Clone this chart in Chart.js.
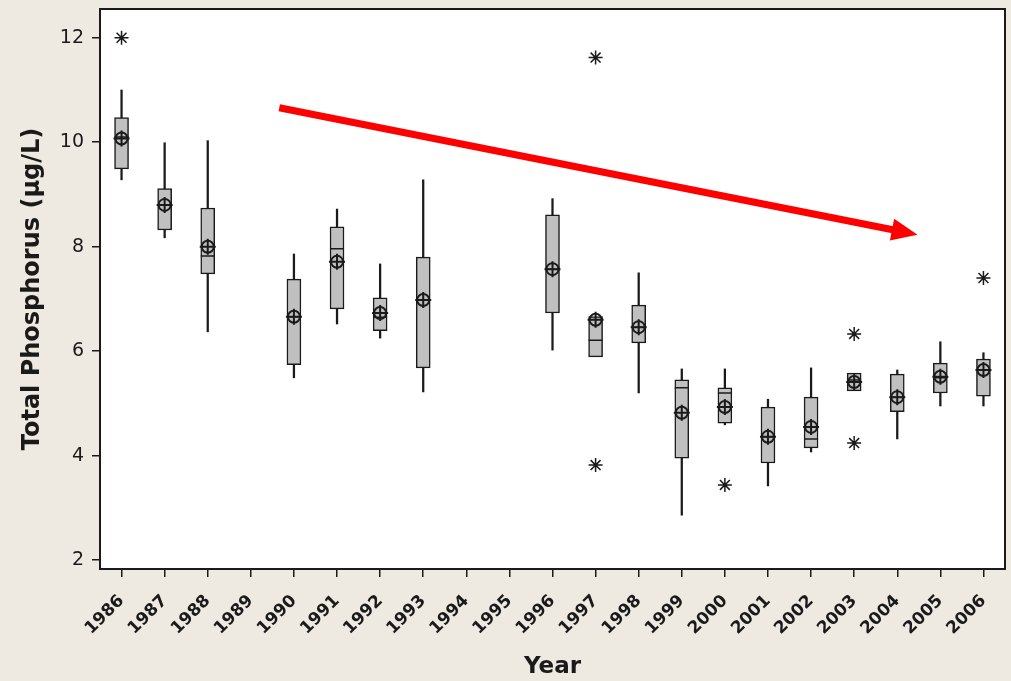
<!DOCTYPE html>
<html>
<head>
<meta charset="utf-8">
<script src="https://cdn.jsdelivr.net/npm/chart.js@4"></script>
<style>
  html, body { margin: 0; padding: 0; background: #eeeae2; overflow: hidden; }
  #wrap { width: 1011px; height: 681px; position: relative; }
</style>
</head>
<body>
<div id="wrap"><canvas id="tpChart"></canvas></div>
<script>
// ---- DATA ----
const years = ['1986','1987','1988','1989','1990','1991','1992','1993','1994','1995','1996',
               '1997','1998','1999','2000','2001','2002','2003','2004','2005','2006'];
const boxLow   = [9.49, 8.32, 7.48, null, 5.74, 6.81, 6.39, 5.68, null, null, 6.73, 5.89, 6.16, 3.95, 4.62, 3.86, 4.15, 5.24, 4.84, 5.20, 5.14];
const boxHigh  = [10.47, 9.11, 8.74, null, 7.38, 8.38, 7.02, 7.80, null, null, 8.61, 6.66, 6.88, 5.45, 5.30, 4.93, 5.12, 5.58, 5.56, 5.77, 5.85];
const whiskLow = [9.28, 8.17, 6.37, null, 5.49, 6.52, 6.25, 5.22, null, null, 6.02, null, 5.20, 2.86, 4.59, 3.42, 4.07, null, 4.32, 4.95, 4.95];
const whiskHigh = [11.0, 9.99, 10.03, null, 7.86, 8.72, 7.67, 9.28, null, null, 8.92, null, 7.50, 5.66, 5.66, 5.08, 5.68, null, 5.64, 6.18, 5.97];
const medians  = [10.1, 8.8, 7.82, null, 6.66, 7.96, 6.65, 6.98, null, null, 7.57, 6.21, 6.46, 5.30, 5.20, 4.36, 4.32, 5.45, 5.12, 5.49, 5.64];
const means    = [10.07, 8.80, 8.0, null, 6.66, 7.71, 6.73, 6.98, null, null, 7.57, 6.60, 6.46, 4.82, 4.93, 4.36, 4.55, 5.41, 5.12, 5.51, 5.64];
const outHigh  = [12.0, null, null, null, null, null, null, null, null, null, null, 11.62, null, null, null, null, null, 6.33, null, null, 7.40];
const outLow   = [null, null, null, null, null, null, null, null, null, null, null, 3.82, null, null, 3.44, null, null, 4.24, null, null, null];
const yTicks   = [2, 4, 6, 8, 10, 12];

// trend arrow, in data units (fractional year, value)
const arrowYears  = [1989.66, 2004.47];
const arrowValues = [10.66, 8.23];

const pair = (a, b) => a.map((v, i) => (v == null || b[i] == null) ? null : [v, b[i]]);

const ink = '#1a1a1a';

// background + frame + arrow
const framePlugin = {
  id: 'frame',
  beforeDraw(chart) {
    const { ctx, chartArea: a } = chart;
    ctx.save();
    ctx.fillStyle = '#eeeae2';
    ctx.fillRect(0, 0, chart.width, chart.height);
    ctx.fillStyle = '#ffffff';
    ctx.fillRect(a.left, a.top, a.right - a.left, a.bottom - a.top);
    ctx.restore();
  },
  afterDraw(chart) {
    const { ctx, chartArea: a, scales } = chart;
    ctx.save();
    ctx.strokeStyle = ink;
    ctx.lineWidth = 2;
    ctx.strokeRect(a.left, a.top, a.right - a.left, a.bottom - a.top);

    // red arrow
    const x0 = scales.x.getPixelForValue(arrowYears[0] - 1986);
    const x1 = scales.x.getPixelForValue(arrowYears[1] - 1986);
    const y0 = scales.y.getPixelForValue(arrowValues[0]);
    const y1 = scales.y.getPixelForValue(arrowValues[1]);
    const ang = Math.atan2(y1 - y0, x1 - x0);
    const headLen = 26, headHalf = 11;
    const bx = x1 - headLen * Math.cos(ang), by = y1 - headLen * Math.sin(ang);
    ctx.strokeStyle = '#ff0000';
    ctx.fillStyle = '#ff0000';
    ctx.lineWidth = 7;
    ctx.beginPath();
    ctx.moveTo(x0, y0);
    ctx.lineTo(bx + 2 * Math.cos(ang), by + 2 * Math.sin(ang));
    ctx.stroke();
    ctx.beginPath();
    ctx.moveTo(x1, y1);
    ctx.lineTo(bx + headHalf * Math.sin(ang), by - headHalf * Math.cos(ang));
    ctx.lineTo(bx - headHalf * Math.sin(ang), by + headHalf * Math.cos(ang));
    ctx.closePath();
    ctx.fill();
    ctx.restore();
  }
};

const pointSet = (label, data, style, radius, width) => ({
  type: 'line',
  label,
  data,
  showLine: false,
  pointStyle: style,
  pointRadius: radius,
  pointBorderColor: ink,
  pointBackgroundColor: 'rgba(0,0,0,0)',
  pointBorderWidth: width,
  order: 0
});

new Chart(document.getElementById('tpChart'), {
  type: 'bar',
  data: {
    labels: years,
    datasets: [
      { label: 'Whisker low', data: pair(whiskLow, boxLow), backgroundColor: ink,
        barThickness: 1.6, grouped: false, borderWidth: 0, order: 3 },
      { label: 'Whisker high', data: pair(boxHigh, whiskHigh), backgroundColor: ink,
        barThickness: 1.6, grouped: false, borderWidth: 0, order: 3 },
      { label: 'IQR box', data: pair(boxLow, boxHigh), backgroundColor: '#c0c0c0',
        borderColor: ink, borderWidth: 1.5, borderSkipped: false,
        barThickness: 14, grouped: false, order: 2 },
      pointSet('Median', medians, 'line', 7, 1.5),
      pointSet('Mean ring', means, 'circle', 6, 2),
      pointSet('Mean cross', means, 'cross', 8, 2),
      pointSet('Outlier high', outHigh, 'star', 7, 1.5),
      pointSet('Outlier low', outLow, 'star', 7, 1.5)
    ]
  },
  options: {
    responsive: true,
    maintainAspectRatio: false,
    animation: false,
    events: [],
    layout: { autoPadding: false, padding: { top: 9, right: 6, left: 0, bottom: 0 } },
    plugins: {
      legend: { display: false },
      tooltip: { enabled: false }
    },
    scales: {
      x: {
        type: 'category',
        offset: true,
        grid: { offset: false, drawOnChartArea: false, drawTicks: true, tickLength: 8, color: ink, lineWidth: 1.5 },
        border: { display: false },
        ticks: { color: ink, font: { family: 'DejaVu Sans', size: 17, weight: 'bold' },
                 minRotation: 45, maxRotation: 45, autoSkip: false, padding: 14 },
        title: { display: true, text: 'Year', color: ink,
                 font: { family: 'DejaVu Sans', size: 23, weight: 'bold' }, padding: { top: 4, bottom: 0 } },
        afterFit: s => { s.height = 112; s.paddingLeft = 0; s.paddingRight = 0; }
      },
      y: {
        type: 'linear',
        min: 1.83,
        max: 12.55,
        grid: { drawOnChartArea: false, drawTicks: true, tickLength: 8, color: ink, lineWidth: 1.5 },
        border: { display: false },
        afterBuildTicks: s => { s.ticks = yTicks.map(v => ({ value: v })); },
        ticks: { color: ink, font: { family: 'DejaVu Sans', size: 19 }, padding: 8 },
        title: { display: true, text: 'Total Phosphorus (µg/L)', color: ink,
                 font: { family: 'DejaVu Sans', size: 24, weight: 'bold' }, padding: { top: 18.5, bottom: 4 } },
        afterFit: s => { s.width = 100; s.paddingTop = 0; s.paddingBottom = 0; }
      }
    }
  },
  plugins: [framePlugin]
});
</script>
</body>
</html>
